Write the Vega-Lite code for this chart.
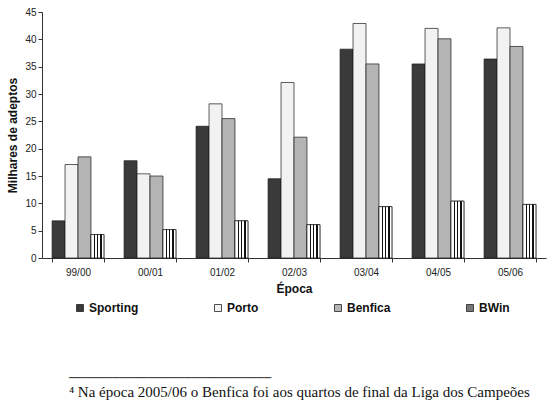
{
  "$schema": "https://vega.github.io/schema/vega-lite/v6.json",
  "width": 504,
  "height": 246,
  "autosize": {"type": "none"},
  "padding": {"left": 42, "top": 12, "right": 5, "bottom": 145},
  "background": "white",
  "config": {
    "font": "Liberation Sans",
    "view": {"stroke": null},
    "axis": {
      "grid": false,
      "domainColor": "#333333",
      "tickColor": "#333333",
      "labelColor": "#222222",
      "titleColor": "#111111",
      "labelFontSize": 10,
      "titleFontSize": 12,
      "titleFontWeight": "bold",
      "tickSize": 4
    }
  },
  "title": {
    "text": "────────────────────────────",
    "subtitle": " ⁴ Na época 2005/06 o Benfica foi aos quartos de final da Liga dos Campeões",
    "orient": "bottom",
    "anchor": "start",
    "font": "DejaVu Sans",
    "fontSize": 12,
    "fontWeight": "normal",
    "color": "#333333",
    "subtitleFont": "Liberation Serif",
    "subtitleFontSize": 15,
    "subtitleColor": "#111111",
    "subtitlePadding": 0,
    "dx": 62,
    "offset": 59
  },
  "data": {
    "values": [
      {"epoca": "99/00", "clube": "Sporting", "v": 6.8},
      {"epoca": "99/00", "clube": "Porto", "v": 17.1},
      {"epoca": "99/00", "clube": "Benfica", "v": 18.5},
      {"epoca": "99/00", "clube": "BWin", "v": 4.3},
      {"epoca": "00/01", "clube": "Sporting", "v": 17.8},
      {"epoca": "00/01", "clube": "Porto", "v": 15.4},
      {"epoca": "00/01", "clube": "Benfica", "v": 15.0},
      {"epoca": "00/01", "clube": "BWin", "v": 5.2},
      {"epoca": "01/02", "clube": "Sporting", "v": 24.1},
      {"epoca": "01/02", "clube": "Porto", "v": 28.2},
      {"epoca": "01/02", "clube": "Benfica", "v": 25.5},
      {"epoca": "01/02", "clube": "BWin", "v": 6.8},
      {"epoca": "02/03", "clube": "Sporting", "v": 14.5},
      {"epoca": "02/03", "clube": "Porto", "v": 32.1},
      {"epoca": "02/03", "clube": "Benfica", "v": 22.1},
      {"epoca": "02/03", "clube": "BWin", "v": 6.1},
      {"epoca": "03/04", "clube": "Sporting", "v": 38.2},
      {"epoca": "03/04", "clube": "Porto", "v": 42.9},
      {"epoca": "03/04", "clube": "Benfica", "v": 35.5},
      {"epoca": "03/04", "clube": "BWin", "v": 9.4},
      {"epoca": "04/05", "clube": "Sporting", "v": 35.5},
      {"epoca": "04/05", "clube": "Porto", "v": 42.0},
      {"epoca": "04/05", "clube": "Benfica", "v": 40.1},
      {"epoca": "04/05", "clube": "BWin", "v": 10.4},
      {"epoca": "05/06", "clube": "Sporting", "v": 36.4},
      {"epoca": "05/06", "clube": "Porto", "v": 42.1},
      {"epoca": "05/06", "clube": "Benfica", "v": 38.7},
      {"epoca": "05/06", "clube": "BWin", "v": 9.8}
    ]
  },
  "encoding": {
    "x": {
      "field": "epoca",
      "type": "nominal",
      "sort": null,
      "title": "Época",
      "scale": {"paddingInner": 0.28, "paddingOuter": 0.14},
      "axis": {"labelAngle": 0, "tickBand": "extent", "labelPadding": 5, "titlePadding": 6}
    },
    "xOffset": {
      "field": "clube",
      "type": "nominal",
      "scale": {"domain": ["Sporting", "Porto", "Benfica", "BWin"], "paddingInner": 0, "paddingOuter": 0}
    },
    "y": {
      "field": "v",
      "type": "quantitative",
      "title": "Milhares de adeptos",
      "scale": {"domain": [0, 45], "nice": false},
      "axis": {"values": [0, 5, 10, 15, 20, 25, 30, 35, 40, 45], "labelPadding": 2, "titlePadding": 5}
    }
  },
  "layer": [
    {
      "mark": {"type": "bar", "stroke": "#1a1a1a", "strokeWidth": 0.7},
      "encoding": {
        "color": {
          "field": "clube",
          "type": "nominal",
          "scale": {"domain": ["Sporting", "Porto", "Benfica", "BWin"], "range": ["#3a3a3a", "#f2f2f2", "#b4b4b4", "#777777"]},
          "legend": {
            "orient": "none",
            "legendX": 32,
            "legendY": 290,
            "direction": "horizontal",
            "title": null,
            "padding": 0,
            "symbolType": "square",
            "symbolSize": 49,
            "symbolStrokeColor": "#222222",
            "symbolStrokeWidth": 0.8,
            "symbolOpacity": 1,
            "labelFontSize": 12,
            "labelFontWeight": "bold",
            "labelColor": "#111111",
            "labelOffset": 3,
            "columnPadding": 73
          }
        }
      }
    },
    {
      "transform": [{"filter": "datum.clube === 'BWin'"}],
      "mark": {
        "type": "bar",
        "stroke": "#1a1a1a",
        "strokeWidth": 0.7,
        "fill": {
          "gradient": "linear",
          "x1": 0, "y1": 0, "x2": 1, "y2": 0,
          "stops": [
            {"offset": 0, "color": "#ffffff"},
            {"offset": 0.22, "color": "#ffffff"},
            {"offset": 0.22, "color": "#111111"},
            {"offset": 0.32, "color": "#111111"},
            {"offset": 0.32, "color": "#ffffff"},
            {"offset": 0.47, "color": "#ffffff"},
            {"offset": 0.47, "color": "#111111"},
            {"offset": 0.57, "color": "#111111"},
            {"offset": 0.57, "color": "#ffffff"},
            {"offset": 0.72, "color": "#ffffff"},
            {"offset": 0.72, "color": "#111111"},
            {"offset": 0.82, "color": "#111111"},
            {"offset": 0.82, "color": "#ffffff"},
            {"offset": 1, "color": "#ffffff"}
          ]
        }
      }
    }
  ]
}
